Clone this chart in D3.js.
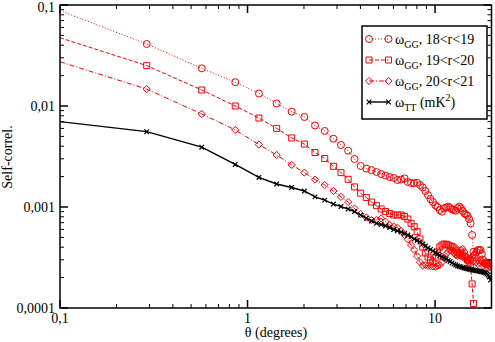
<!DOCTYPE html>
<html>
<head>
<meta charset="utf-8">
<title>Self-correlation</title>
<script src="https://d3js.org/d3.v7.min.js"></script>
<style>
  body { margin: 0; background: #fff; }
  svg { display: block; }
  text { font-family: "Liberation Serif", "Times New Roman", serif; fill: #000; }
</style>
</head>
<body>
<div id="chart"></div>
<script>
// angle (degrees); first entry is where the curves enter the plot
var theta = [0.1,
  0.29, 0.57, 0.86, 1.15, 1.43, 1.72, 2.01, 2.29, 2.58, 2.87,
  3.15, 3.44, 3.72, 4.01, 4.30, 4.58, 4.87, 5.16, 5.44, 5.73,
  6.02, 6.30, 6.59, 6.88, 7.16, 7.45, 7.74, 8.02, 8.31, 8.60,
  8.88, 9.17, 9.45, 9.74, 10.03, 10.31, 10.60, 10.89, 11.17, 11.46,
  11.75, 12.03, 12.32, 12.61, 12.89, 13.18, 13.47, 13.75, 14.04, 14.33,
  14.61, 14.90, 15.18, 15.47, 15.76, 16.04, 16.33, 16.62, 16.90, 17.19,
  17.48, 17.76, 18.05, 18.34, 18.62, 18.91, 19.20, 19.48, 19.77];

var gg1819 = [0.088,
  0.0411, 0.0236, 0.0172, 0.0133, 0.0106, 0.00878, 0.00778, 0.00641, 0.00566, 0.00474,
  0.00411, 0.00361, 0.00299, 0.00255, 0.0024, 0.00232, 0.00222, 0.00212, 0.00205, 0.00198,
  0.00194, 0.00185, 0.00187, 0.00192, 0.00177, 0.00173, 0.00172, 0.00174, 0.00165, 0.00156,
  0.00144, 0.00131, 0.0012, 0.00112, 0.00104, 0.001, 0.000934, 0.000898, 0.00097, 0.00099,
  0.00101, 0.000977, 0.000948, 0.000934, 0.000919, 0.000977, 0.00101, 0.00097, 0.000913, 0.000866,
  0.000843, 0.000819, 0.00076, 0.000689, 0.000528, 0.000361, 0.000335, 0.000358, 0.000375, 0.000375,
  0.000375, 0.000342, 0.000299, 0.000277, 0.000277, 0.000277, 0.00028, 0.000272, 0.000256];

var gg1920 = [0.0474,
  0.0251, 0.0144, 0.01, 0.0076, 0.006, 0.00483, 0.0042, 0.00346, 0.00302, 0.00253,
  0.00219, 0.00188, 0.00158, 0.00137, 0.00124, 0.00112, 0.00103, 0.000955, 0.000902, 0.000862,
  0.000833, 0.000833, 0.000833, 0.000805, 0.00076, 0.000689, 0.000638, 0.00057, 0.000483, 0.000402,
  0.00035, 0.00032, 0.000299, 0.000287, 0.000313, 0.000358, 0.000402, 0.00042, 0.00043, 0.000427,
  0.00042, 0.000411, 0.000405, 0.000393, 0.000375, 0.000358, 0.000342, 0.000335, 0.000327, 0.000322,
  0.000313, 0.000299, 0.000279, 0.000256, 0.000173, 0.000111];

var gg2021 = [0.0274,
  0.0147, 0.00833, 0.00579, 0.00415, 0.00327, 0.00261, 0.00219, 0.00187, 0.00165, 0.00144,
  0.00126, 0.00112, 0.000966, 0.000852, 0.000787, 0.000743, 0.000743, 0.00077, 0.000718, 0.000663,
  0.000641, 0.000624, 0.000579, 0.000528, 0.000477, 0.00042, 0.000375, 0.000327, 0.000285, 0.000263,
  0.000266, 0.000261, 0.000261, 0.000258, 0.000256, 0.000261, 0.000266, 0.000285, 0.000313, 0.000342,
  0.000358, 0.000375, 0.000367, 0.00035, 0.000335, 0.000327, 0.000342, 0.000375, 0.000384, 0.000358,
  0.000327, 0.000299, 0.000285, 0.000299, 0.00032, 0.000335, 0.000313, 0.000285, 0.000272, 0.000285,
  0.000299, 0.000285, 0.000261, 0.000272, 0.000285, 0.000272, 0.000249, 0.000261, 0.000272];

var tt = [0.007,
  0.00557, 0.00391, 0.00264, 0.00196, 0.00169, 0.00156, 0.00144, 0.00126, 0.00117, 0.00107,
  0.00101, 0.000955, 0.000902, 0.000833, 0.000773, 0.000727, 0.000689, 0.000671, 0.000648, 0.000627,
  0.000598, 0.000583, 0.000566, 0.000547, 0.000528, 0.000509, 0.000483, 0.000466, 0.00045, 0.00043,
  0.000411, 0.000393, 0.00038, 0.000367, 0.000354, 0.000342, 0.000331, 0.00032, 0.000313, 0.000306,
  0.000296, 0.000289, 0.000279, 0.000272, 0.000266, 0.000261, 0.000258, 0.000255, 0.000252, 0.000249,
  0.000246, 0.000244, 0.000242, 0.000241, 0.000238, 0.000238, 0.000235, 0.000235, 0.000232, 0.000232,
  0.00023, 0.000228, 0.000227, 0.000224, 0.000222, 0.000217, 0.000212, 0.000203, 0.000189];

var seriesNames = ["18<r<19", "19<r<20", "20<r<21"];

var width = 495, height = 342;

var svg = d3.select("#chart").append("svg")
    .attr("width", width)
    .attr("height", height);

var x = d3.scaleLog().domain([0.1, 20]).range([60, 491.5]);
var y = d3.scaleLog().domain([0.0001, 0.1]).range([308, 5]);

var fmt = d3.formatLocale({decimal: ",", thousands: ".", grouping: [3], currency: ["", ""]}).format("~g");
function isMajor(v) { var l = Math.log10(v); return Math.abs(l - Math.round(l)) < 1e-6; }

svg.append("defs").append("clipPath").attr("id", "plot")
  .append("rect")
    .attr("x", x.range()[0]).attr("y", y.range()[1])
    .attr("width", x.range()[1] - x.range()[0])
    .attr("height", y.range()[0] - y.range()[1]);

// marker shapes
function marker(type, s) {
  if (type == "circle") return d3.symbol().type(d3.symbolCircle).size(Math.PI * s * s)();
  if (type == "square") return "M" + (-s) + "," + (-s) + "H" + s + "V" + s + "H" + (-s) + "Z";
  if (type == "diamond") { var d = s * 1.2; return "M0," + (-d) + "L" + d + ",0L0," + d + "L" + (-d) + ",0Z"; }
  return "M" + (-s) + "," + (-s) + "L" + s + "," + s + "M" + (-s) + "," + s + "L" + s + "," + (-s);
}

var series = [
  {values: gg2021, color: "#ff0000", dash: "5,2,1,2", type: "diamond", size: 3, width: 1},
  {values: gg1920, color: "#ff0000", dash: "4,2", type: "square", size: 3, width: 1},
  {values: gg1819, color: "#ff0000", dash: "1,2", type: "circle", size: 3.5, width: 1},
  {values: tt, color: "#000", dash: null, type: "x", size: 2.3, width: 1.4}
];

var line = d3.line()
    .x(function(d) { return x(d[0]); })
    .y(function(d) { return y(d[1]); });

var plot = svg.append("g").attr("clip-path", "url(#plot)");

series.forEach(function(s) {
  var pts = s.values.map(function(v, i) { return [theta[i], v]; });
  plot.append("path")
      .attr("d", line(pts))
      .attr("fill", "none")
      .attr("stroke", s.color)
      .attr("stroke-width", s.width)
      .attr("stroke-dasharray", s.dash);
  plot.selectAll(null)
      .data(pts.slice(1))
      .enter().append("path")
      .attr("transform", function(d) { return "translate(" + x(d[0]) + "," + y(d[1]) + ")"; })
      .attr("d", marker(s.type, s.size))
      .attr("fill", "none")
      .attr("stroke", s.color)
      .attr("stroke-width", s.type == "x" ? 1.2 : 1);
});

// frame and inward ticks on all four sides
var x0 = x.range()[0], x1 = x.range()[1], y0 = y.range()[0], y1 = y.range()[1];
var axes = svg.append("g").attr("stroke", "#000");

x.ticks().forEach(function(t) {
  var len = isMajor(t) ? 8 : 4, px = x(t);
  axes.append("line").attr("x1", px).attr("x2", px).attr("y1", y0).attr("y2", y0 - len).attr("stroke-width", isMajor(t) ? 1.5 : 1);
  axes.append("line").attr("x1", px).attr("x2", px).attr("y1", y1).attr("y2", y1 + len).attr("stroke-width", isMajor(t) ? 1.5 : 1);
  if (isMajor(t)) {
    svg.append("text").attr("x", px).attr("y", 323)
      .attr("text-anchor", "middle").style("font-size", "14px").text(fmt(t));
  }
});
y.ticks().forEach(function(t) {
  var len = isMajor(t) ? 8 : 4, py = y(t);
  axes.append("line").attr("x1", x0).attr("x2", x0 + len).attr("y1", py).attr("y2", py).attr("stroke-width", isMajor(t) ? 1.5 : 1);
  axes.append("line").attr("x1", x1).attr("x2", x1 - len).attr("y1", py).attr("y2", py).attr("stroke-width", isMajor(t) ? 1.5 : 1);
  if (isMajor(t)) {
    svg.append("text").attr("x", 55).attr("y", Math.max(py + 5, 12))
      .attr("text-anchor", "end").style("font-size", "14px").text(fmt(t));
  }
});
axes.append("rect")
    .attr("x", x0).attr("y", y1).attr("width", x1 - x0).attr("height", y0 - y1)
    .attr("fill", "none").attr("stroke-width", 1.5);

svg.append("text").attr("x", 276).attr("y", 337)
  .attr("text-anchor", "middle").style("font-size", "14px").text("θ (degrees)");
svg.append("text")
  .attr("transform", "translate(12,157) rotate(-90)")
  .attr("text-anchor", "middle").style("font-size", "14px").text("Self-correl.");

// legend
var legend = svg.append("g");
legend.append("rect")
    .attr("x", 362).attr("y", 26).attr("width", 125).attr("height", 93)
    .attr("fill", "#fff").attr("stroke", "#000").attr("stroke-width", 1.5);

var legendRows = [series[2], series[1], series[0], series[3]];
legendRows.forEach(function(s, i) {
  var cy = 39 + i * 21;
  legend.append("line")
      .attr("x1", 369).attr("x2", 388.5).attr("y1", cy).attr("y2", cy)
      .attr("stroke", s.color).attr("stroke-width", s.width).attr("stroke-dasharray", s.dash);
  [369, 388.5].forEach(function(mx) {
    legend.append("path")
        .attr("transform", "translate(" + mx + "," + cy + ")")
        .attr("d", marker(s.type, s.size))
        .attr("fill", "none").attr("stroke", s.color).attr("stroke-width", s.type == "x" ? 1.2 : 1);
  });
  var t = legend.append("text").attr("x", 395).attr("y", cy + 5).style("font-size", "14px");
  t.append("tspan").text("ω");
  if (i < 3) {
    t.append("tspan").attr("dy", 4).style("font-size", "10px").text("GG");
    t.append("tspan").attr("dy", -4).text(", " + seriesNames[i]);
  } else {
    t.append("tspan").attr("dy", 4).style("font-size", "10px").text("TT");
    t.append("tspan").attr("dy", -4).text(" (mK");
    t.append("tspan").attr("dy", -6).style("font-size", "10px").text("2");
    t.append("tspan").attr("dy", 6).text(")");
  }
});
</script>
</body>
</html>
